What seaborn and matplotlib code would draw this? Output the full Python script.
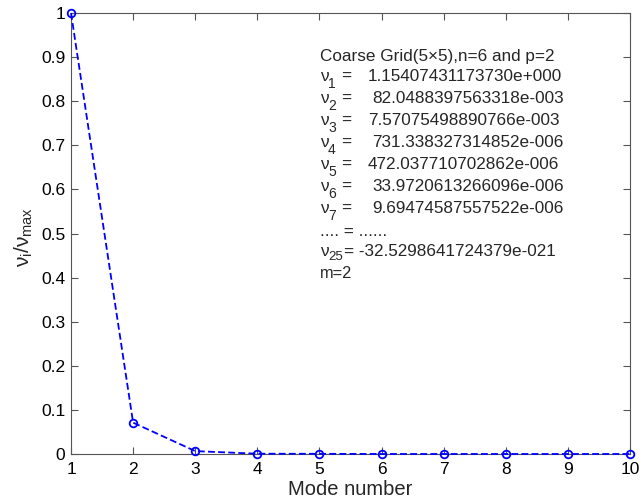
import matplotlib
matplotlib.use("Agg")
import matplotlib.pyplot as plt
import seaborn as sns
import pandas as pd

mode_number = [1, 2, 3, 4, 5, 6, 7, 8, 9, 10]
ratio = [1.0, 0.0711, 0.00656, 0.000634, 0.000409, 2.94e-5, 8.40e-6, 2.0e-6, 5.0e-7, 1.0e-7]
title_line = "Coarse Grid(5\u00d75),n=6 and p=2"
nu_subscripts = ["1", "2", "3", "4", "5", "6", "7"]
nu_values = [
    "1.15407431173730e+000",
    "82.0488397563318e-003",
    "7.57075498890766e-003",
    "731.338327314852e-006",
    "472.037710702862e-006",
    "33.9720613266096e-006",
    "9.69474587557522e-006",
]
ellipsis_line = ".... = ......"
last_subscript = "25"
last_value = "-32.5298641724379e-021"
m_line = "m=2"

sns.set_style("white")
plt.rcParams['font.family'] = ['Liberation Sans', 'DejaVu Sans']
plt.rcParams['mathtext.fontset'] = 'custom'
plt.rcParams['mathtext.rm'] = 'Liberation Sans'
plt.rcParams['mathtext.it'] = 'Liberation Sans'

df = pd.DataFrame({"mode": mode_number, "ratio": ratio})

W, H = 642, 503
fig = plt.figure(figsize=(W / 100, H / 100), dpi=100)
ax = fig.add_axes([71 / W, 1 - 454 / H, (630 - 71) / W, (454 - 13) / H])
sns.lineplot(data=df, x="mode", y="ratio", ax=ax, color=(0, 0, 1),
             linestyle=(0, (3.8, 1.8)), linewidth=1.3, marker="o", markersize=5.5,
             markerfacecolor="none", markeredgecolor=(0, 0, 1), markeredgewidth=1.3,
             clip_on=False, zorder=5)

ax.set_xlim(1, 10)
ax.set_ylim(0, 1)
ax.set_xticks(range(1, 11))
ax.set_yticks([i / 10 for i in range(11)])
ax.set_yticklabels(["0", "0.1", "0.2", "0.3", "0.4", "0.5", "0.6", "0.7", "0.8", "0.9", "1"])
ax.tick_params(direction="in", length=5, width=0.8, top=True, right=True,
               bottom=True, left=True,
               labelsize=12.5, colors="#555555", labelcolor="black")
ax.tick_params(axis="x", pad=6)
ax.tick_params(axis="y", pad=4)
for s in ax.spines.values():
    s.set_visible(True)
    s.set_color("#555555")
    s.set_linewidth(0.8)
ax.set_xlabel("Mode number", fontsize=14.5, labelpad=2)
ax.set_ylabel(r"$\nu_i/\nu_{max}$", fontsize=15, labelpad=0)
ax.yaxis.set_label_coords(-(71 - 35) / (630 - 71), 0.5 - 4 / 441)


def fx(px):
    return px / W


def fy(py):
    return 1 - py / H


fs = 12.3
sub_fs = 10
x0 = 320
y_title = 57
y_nu1 = 76.5
dy = 22
value_x = [368, 372, 368, 372, 368, 372, 372]

fig.text(fx(x0), fy(y_title), title_line, fontsize=fs, va="center", ha="left")
for i, (sub, val) in enumerate(zip(nu_subscripts, nu_values)):
    yc = y_nu1 + i * dy
    fig.text(fx(x0), fy(yc), "\u03bd", fontsize=fs, va="center", ha="left")
    fig.text(fx(x0 + 8), fy(yc + 7), sub, fontsize=sub_fs, va="center", ha="left")
    fig.text(fx(x0 + 21), fy(yc), "=", fontsize=fs, va="center", ha="left")
    fig.text(fx(value_x[i]), fy(yc), val, fontsize=fs, va="center", ha="left")

y_ell = y_nu1 + 7 * dy + 0.5
fig.text(fx(x0), fy(y_ell), ellipsis_line, fontsize=fs, va="center", ha="left")
y_last = y_nu1 + 8 * dy - 1
fig.text(fx(x0), fy(y_last), "\u03bd", fontsize=fs, va="center", ha="left")
fig.text(fx(x0 + 8), fy(y_last + 6), last_subscript, fontsize=sub_fs - 0.5, va="center", ha="left")
fig.text(fx(x0 + 24), fy(y_last), "= " + last_value, fontsize=fs, va="center", ha="left")
fig.text(fx(x0), fy(273), m_line, fontsize=fs - 0.5, va="center", ha="left")

fig.savefig("out.png", dpi=100)
